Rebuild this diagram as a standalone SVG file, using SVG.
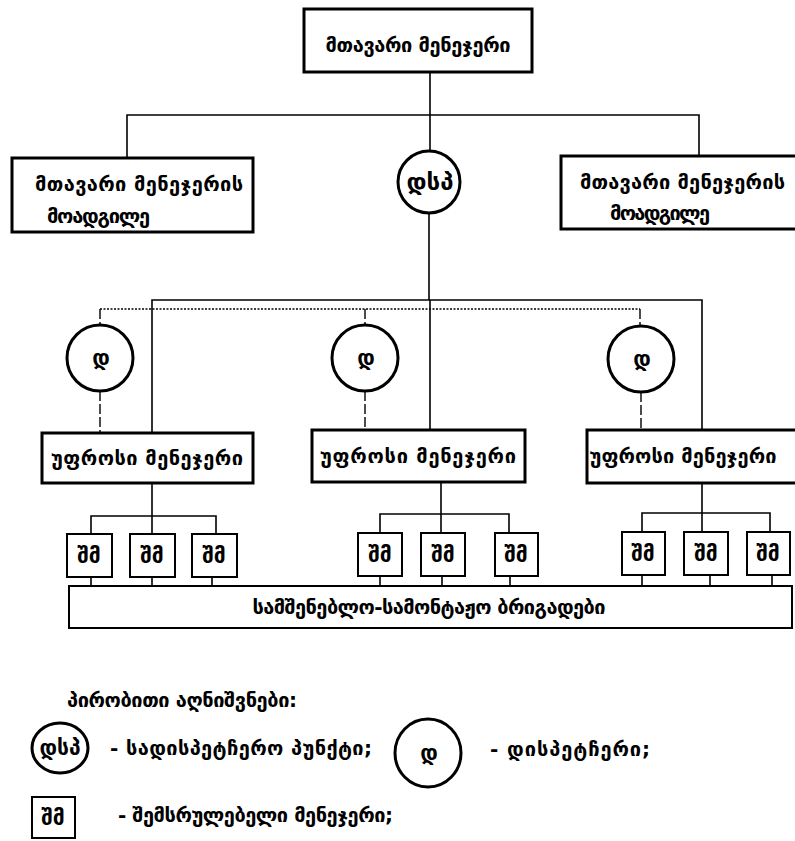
<svg xmlns="http://www.w3.org/2000/svg" width="795" height="841" viewBox="0 0 795 841">
<style>
text{font-family:"DejaVu Sans","Noto Sans",sans-serif;font-weight:bold;fill:#000}
.t{font-size:20px}
.s{font-size:21px}
.c{font-size:24px}
.box{fill:#fff;stroke:#000;stroke-width:3}
.sbox{fill:#fff;stroke:#000;stroke-width:2}
.circ{fill:#fff;stroke:#000;stroke-width:3}
.ln{fill:none;stroke:#000;stroke-width:1.6}
.dash{fill:none;stroke:#000;stroke-width:1.4;stroke-dasharray:10 3}
.dot{fill:none;stroke:#000;stroke-width:1.4;stroke-dasharray:2 1.5}
</style>
<rect width="795" height="841" fill="#fff"/>
<g id="connectors">
<path class="ln" d="M430 72V151M127 158V115H699V156"/>
<path class="ln" d="M429 213V300M152 433V300H702V430M430 300V430"/>
<path class="dot" d="M100 309H640"/>
<path class="dash" d="M100 309V325M365 309V325M640 309V326M100 391V433M365 391V430M641 392V430"/>
<path class="ln" d="M152 483V516M91 534V516H216V534M152 516V534"/>
<path class="ln" d="M441 482V514M380 533V514H509V533M441 514V533"/>
<path class="ln" d="M702 483V513M642 532V513H770V532M702 513V532"/>
<path class="ln" d="M91 577V586M152 577V586M212 577V586M380 576V586M442 576V586M510 576V586M642 575V586M710 575V586M772 575V586"/>
</g>
<g id="main-manager"><rect class="box" x="304" y="9" width="228" height="63"/><text class="t" x="418" y="52" text-anchor="middle" textLength="185">მთავარი მენეჯერი</text></g>
<g id="deputy-left"><rect class="box" x="12" y="158" width="241" height="74"/><text class="t" x="35" y="191" textLength="208">მთავარი მენეჯერის</text><text class="t" x="47" y="223" textLength="103">მოადგილე</text></g>
<g id="deputy-right"><rect class="box" x="561" y="156" width="240" height="73"/><text class="t" x="580" y="189" textLength="205">მთავარი მენეჯერის</text><text class="t" x="610" y="220" textLength="100">მოადგილე</text></g>
<g id="dsp"><circle class="circ" cx="429" cy="182" r="31"/><text class="c" x="430" y="190" text-anchor="middle">დსპ</text></g>
<g id="d1"><circle class="circ" cx="100" cy="358" r="33"/><text class="s" x="101" y="365" text-anchor="middle">დ</text></g>
<g id="d2"><circle class="circ" cx="365" cy="358" r="33"/><text class="s" x="366" y="365" text-anchor="middle">დ</text></g>
<g id="d3"><circle class="circ" cx="641" cy="359" r="33"/><text class="s" x="642" y="366" text-anchor="middle">დ</text></g>
<g id="senior-1"><rect class="box" x="42" y="433" width="211" height="50"/><text class="t" x="147" y="465" text-anchor="middle" textLength="192">უფროსი მენეჯერი</text></g>
<g id="senior-2"><rect class="box" x="312" y="430" width="213" height="52"/><text class="t" x="418" y="463" text-anchor="middle" textLength="196">უფროსი მენეჯერი</text></g>
<g id="senior-3"><rect class="box" x="587" y="430" width="215" height="53"/><text class="t" x="683" y="463" text-anchor="middle" textLength="187">უფროსი მენეჯერი</text></g>
<g id="sm-1-1"><rect class="sbox" x="67" y="534" width="45" height="43"/><text class="s" x="89" y="563" text-anchor="middle">შმ</text></g>
<g id="sm-1-2"><rect class="sbox" x="130" y="534" width="45" height="43"/><text class="s" x="152" y="563" text-anchor="middle">შმ</text></g>
<g id="sm-1-3"><rect class="sbox" x="192" y="534" width="45" height="43"/><text class="s" x="214" y="563" text-anchor="middle">შმ</text></g>
<g id="sm-2-1"><rect class="sbox" x="358" y="533" width="44" height="43"/><text class="s" x="380" y="562" text-anchor="middle">შმ</text></g>
<g id="sm-2-2"><rect class="sbox" x="421" y="533" width="44" height="43"/><text class="s" x="443" y="562" text-anchor="middle">შმ</text></g>
<g id="sm-2-3"><rect class="sbox" x="495" y="533" width="43" height="43"/><text class="s" x="516" y="562" text-anchor="middle">შმ</text></g>
<g id="sm-3-1"><rect class="sbox" x="622" y="532" width="43" height="43"/><text class="s" x="643" y="561" text-anchor="middle">შმ</text></g>
<g id="sm-3-2"><rect class="sbox" x="684" y="532" width="44" height="43"/><text class="s" x="706" y="561" text-anchor="middle">შმ</text></g>
<g id="sm-3-3"><rect class="sbox" x="747" y="532" width="43" height="43"/><text class="s" x="768" y="561" text-anchor="middle">შმ</text></g>
<g id="brigades"><rect class="sbox" x="69" y="586" width="723" height="42"/><text class="t" x="429" y="614" text-anchor="middle" textLength="353">სამშენებლო-სამონტაჟო ბრიგადები</text></g>
<g id="legend">
<text class="t" x="67" y="707" textLength="230">პირობითი აღნიშვნები:</text>
<ellipse class="circ" cx="60" cy="748" rx="28" ry="25"/><text class="s" x="60" y="755" text-anchor="middle">დსპ</text>
<text class="t" x="110" y="755" textLength="262">- სადისპეტჩერო პუნქტი;</text>
<ellipse class="circ" cx="428" cy="753" rx="33" ry="34"/><text class="s" x="429" y="760" text-anchor="middle">დ</text>
<text class="t" x="490" y="756" textLength="160">- დისპეტჩერი;</text>
<rect class="sbox" x="32" y="797" width="43" height="41"/><text class="s" x="53" y="825" text-anchor="middle">შმ</text>
<text class="t" x="118" y="822" textLength="275">- შემსრულებელი მენეჯერი;</text>
</g>
</svg>
